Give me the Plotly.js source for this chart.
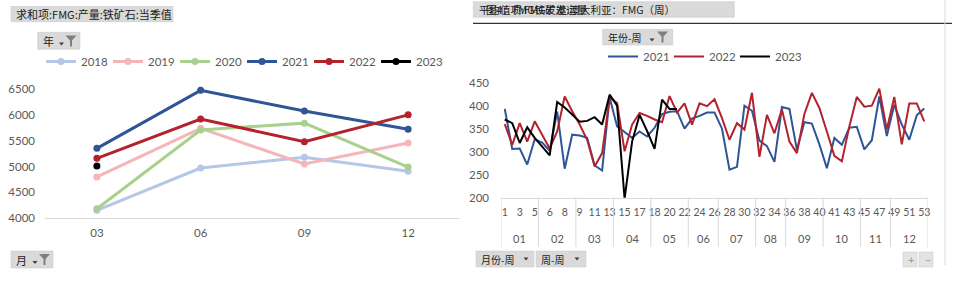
<!DOCTYPE html>
<html><head><meta charset="utf-8">
<script src="https://cdn.plot.ly/plotly-3.0.1.min.js"></script>
<style>html,body{margin:0;padding:0;background:#fff;}#chart{width:956px;height:296px;}</style>
</head><body><div id="chart"></div>
<script>
// ---------- Left chart data (quarterly output) ----------
const quarterLabels = ['03', '06', '09', '12'];
const yearNames = ['2018', '2019', '2020', '2021', '2022', '2023'];
const q2018 = [4155, 4972, 5180, 4910];
const q2019 = [4800, 5740, 5050, 5455];
const q2020 = [4186, 5707, 5840, 4990];
const q2021 = [5353, 6474, 6074, 5720];
const q2022 = [5160, 5920, 5480, 6000];
const q2023 = [5010];
const quarterColors = ['#b4c7e7', '#f4b6b8', '#a9d18e', '#2f5597', '#b4222c', '#000000'];

// ---------- Right chart data (weekly shipments) ----------
const weekMonths = ['01','01','01','01','01','02','02','02','02','02','03','03','03','03','03',
  '04','04','04','04','04','05','05','05','05','05','06','06','06','06',
  '07','07','07','07','07','08','08','08','08','09','09','09','09','09',
  '10','10','10','10','10','11','11','11','11','12','12','12','12','12'];
const weekNumbers = [1,2,3,4,5, 5,6,7,8,9, 9,10,11,12,13, 14,15,16,17,18, 18,19,20,21,22,
  23,24,25,26, 27,28,29,30,31, 32,33,34,35, 36,37,38,39,40, 40,41,42,43,44, 45,46,47,48, 49,50,51,52,53];
const weekYears = ['2021', '2022', '2023'];
const w2021 = [393,306,307,272,327,320,302,387,263,337,335,330,270,259,418,355,343,330,344,
  333,352,382,387,388,350,372,378,385,385,350,261,267,400,389,324,312,278,397,393,
  304,364,361,316,264,330,315,352,354,305,325,420,334,402,359,326,379,394];
const w2022 = [360,315,362,322,366,337,307,344,420,388,359,326,268,297,418,406,301,359,384,
  378,370,364,421,385,405,359,405,399,414,373,326,362,348,428,289,380,340,392,322,
  297,382,428,395,344,291,279,355,419,398,400,437,348,419,316,405,405,366];
const w2023 = [370,362,319,353,330,312,292,408,396,381,365,367,375,359,424,400,198,322,380,345,306,413,393,393];
const weekColors = ['#2f5597', '#b4222c', '#000000'];

// ---------- helpers ----------
const W = 956, H = 296;
const PX = x => x / W;
const PY = y => 1 - y / H;
const FONT = "Lato, 'Noto Sans CJK SC', sans-serif";
const CJK = "'Noto Sans CJK SC', sans-serif";
const GRAY_TXT = '#595959';

const traces = [];
const qSeries = [q2018, q2019, q2020, q2021, q2022, q2023];
qSeries.forEach((vals, k) => {
  traces.push({
    type: 'scatter', mode: 'lines+markers', name: yearNames[k],
    x: quarterLabels.slice(0, vals.length), y: vals,
    xaxis: 'x', yaxis: 'y', legend: 'legend',
    line: {color: quarterColors[k], width: 3},
    marker: {color: quarterColors[k], size: 7},
    cliponaxis: false
  });
});
const wSeries = [w2021, w2022, w2023];
wSeries.forEach((vals, k) => {
  traces.push({
    type: 'scatter', mode: 'lines', name: weekYears[k],
    x: vals.map((_, i) => i), y: vals,
    xaxis: 'x2', yaxis: 'y2', legend: 'legend2',
    line: {color: weekColors[k], width: 2},
    cliponaxis: false
  });
});

// month groups of the weekly axis
const groups = [];
weekMonths.forEach((m, i) => {
  if (!groups.length || groups[groups.length - 1].m !== m) groups.push({m: m, s: i, e: i});
  else groups[groups.length - 1].e = i;
});
const tickIdx = weekNumbers.map((_, i) => i).filter(i => i % 2 === 0);

const shapes = [];
const annotations = [];

// month dividers + labels
groups.forEach(g => {
  shapes.push({type: 'line', xref: 'x2', yref: 'paper', x0: g.s - 0.5, x1: g.s - 0.5,
    y0: PY(197.7), y1: PY(247), line: {color: '#d9d9d9', width: 1}});
  annotations.push({xref: 'x2', yref: 'paper', x: (g.s + g.e) / 2, y: PY(238), yanchor: 'middle',
    text: g.m, showarrow: false, font: {family: FONT, size: 11, color: GRAY_TXT}});
});
const lastG = groups[groups.length - 1];
shapes.push({type: 'line', xref: 'x2', yref: 'paper', x0: lastG.e + 0.5, x1: lastG.e + 0.5,
  y0: PY(197.7), y1: PY(247), line: {color: '#d9d9d9', width: 1}});

// decorations: buttons
function rectPx(x0, y0, x1, y1, fill) {
  shapes.push({type: 'rect', xref: 'paper', yref: 'paper', x0: PX(x0), x1: PX(x1), y0: PY(y1), y1: PY(y0),
    fillcolor: fill || '#dadada', line: {color: '#c4c4c4', width: 0.5}, layer: 'below'});
}
function pathPx(pts, color) {
  shapes.push({type: 'path', xref: 'paper', yref: 'paper',
    path: 'M' + pts.map(p => PX(p[0]) + ',' + PY(p[1])).join('L') + 'Z',
    fillcolor: color, line: {width: 0}});
}
function funnel(x, y) {
  pathPx([[x, y], [x + 11, y], [x + 6.5, y + 5], [x + 6.5, y + 11], [x + 4.5, y + 11], [x + 4.5, y + 5]], '#7f7f7f');
}
function arrow(cx, y, c) {
  pathPx([[cx - 2.5, y], [cx + 2.5, y], [cx, y + 3]], c || '#404040');
}
function textPx(x, y, t, size, color, fam) {
  annotations.push({xref: 'paper', yref: 'paper', x: PX(x), y: PY(y), xanchor: 'left', yanchor: 'middle',
    text: t, showarrow: false, font: {family: fam || CJK, size: size || 11, color: color || '#000'}});
}

// left header
rectPx(11, 6.5, 173, 21.7);
textPx(14, 14, '求和项:FMG:产量:铁矿石:当季值', 11, '#1a1a1a');
// 年 button
rectPx(37.7, 32.3, 80, 49.3);
textPx(41, 41, '年', 11, '#1a1a1a');
arrow(61.5, 42.5);
funnel(65.5, 35.5);
// 月 button
rectPx(11, 251, 53, 268);
textPx(14, 259.5, '月', 11, '#1a1a1a');
arrow(35, 261);
funnel(39, 254);

// right header (overlapping texts as in the source)
rectPx(473.3, 1.7, 734.3, 17.3);
textPx(477, 9.5, '平均值项:FMG发运:澳大利亚：FMG（周）', 10.5, '#1a1a1a');
textPx(484, 9.5, '图4：FMG铁矿发运量', 10.5, '#1a1a1a');
shapes.push({type: 'line', xref: 'paper', yref: 'paper', x0: PX(473), x1: PX(952), y0: PY(23.3), y1: PY(23.3),
  line: {color: '#000', width: 1}});
shapes.push({type: 'line', xref: 'paper', yref: 'paper', x0: PX(945), x1: PX(945), y0: PY(0), y1: PY(265),
  line: {color: '#d9d9d9', width: 1}});
// 年份-周 button
rectPx(602.7, 29.3, 672.7, 45);
textPx(606, 37.5, '年份-周', 10, '#1a1a1a');
arrow(652, 38.5);
funnel(657, 31.5);
// bottom buttons
rectPx(476, 251, 534, 267);
textPx(479, 259, '月份-周', 10, '#1a1a1a');
arrow(526, 257.5);
rectPx(536, 251, 586, 267);
textPx(539, 259, '周-周', 10, '#1a1a1a');
arrow(577, 257.5);
rectPx(903, 252, 917, 267, '#e3e3e3');
rectPx(919, 252, 933, 267, '#e3e3e3');
textPx(906, 259.5, '+', 11, '#9a9a9a', FONT);
textPx(923, 259, '−', 11, '#9a9a9a', FONT);

const layout = {
  width: W, height: H,
  margin: {l: 0, r: 0, t: 0, b: 0},
  paper_bgcolor: '#fff', plot_bgcolor: 'rgba(0,0,0,0)',
  font: {family: FONT, color: GRAY_TXT, size: 11},
  showlegend: true,
  xaxis: {domain: [PX(45), PX(460)], type: 'category', range: [-0.5, 3.5], anchor: 'y',
    categoryorder: 'array', categoryarray: quarterLabels,
    showline: true, linecolor: '#d9d9d9', linewidth: 1, showgrid: false, zeroline: false,
    ticks: '', ticklabelstandoff: 4, tickfont: {family: FONT, size: 11.5, color: GRAY_TXT}, fixedrange: true},
  yaxis: {domain: [PY(218.3), PY(89)], range: [4000, 6500], dtick: 500, tick0: 0, anchor: 'x',
    showline: false, showgrid: false, zeroline: false, ticks: '', ticklabelstandoff: 9,
    tickfont: {family: FONT, size: 11.5, color: GRAY_TXT}, fixedrange: true},
  xaxis2: {domain: [PX(501), PX(928)], type: 'linear', range: [-0.5, weekNumbers.length - 0.5], anchor: 'y2',
    tickmode: 'array', tickvals: tickIdx, ticktext: tickIdx.map(i => String(weekNumbers[i])),
    showline: true, linecolor: '#d9d9d9', linewidth: 1, showgrid: false, zeroline: false,
    ticks: '', ticklabelstandoff: 5, tickfont: {family: FONT, size: 10.5, color: GRAY_TXT}, fixedrange: true},
  yaxis2: {domain: [PY(197.7), PY(82.7)], range: [200, 450], dtick: 50, tick0: 0, anchor: 'x2',
    showline: false, showgrid: false, zeroline: false, ticks: '', ticklabelstandoff: 11,
    tickfont: {family: FONT, size: 11.5, color: GRAY_TXT}, fixedrange: true},
  legend: {orientation: 'h', x: PX(41), xanchor: 'left', y: PY(47), yanchor: 'top',
    font: {family: FONT, size: 11.5, color: GRAY_TXT}, bgcolor: 'rgba(0,0,0,0)',
    itemwidth: 30, entrywidth: 22, traceorder: 'normal'},
  legend2: {orientation: 'h', x: PX(603), xanchor: 'left', y: PY(42), yanchor: 'top',
    font: {family: FONT, size: 11.5, color: GRAY_TXT}, bgcolor: 'rgba(0,0,0,0)',
    itemwidth: 30, entrywidth: 21, traceorder: 'normal'},
  shapes: shapes,
  annotations: annotations
};

Plotly.newPlot('chart', traces, layout, {staticPlot: true, displayModeBar: false});
</script>
</body></html>
